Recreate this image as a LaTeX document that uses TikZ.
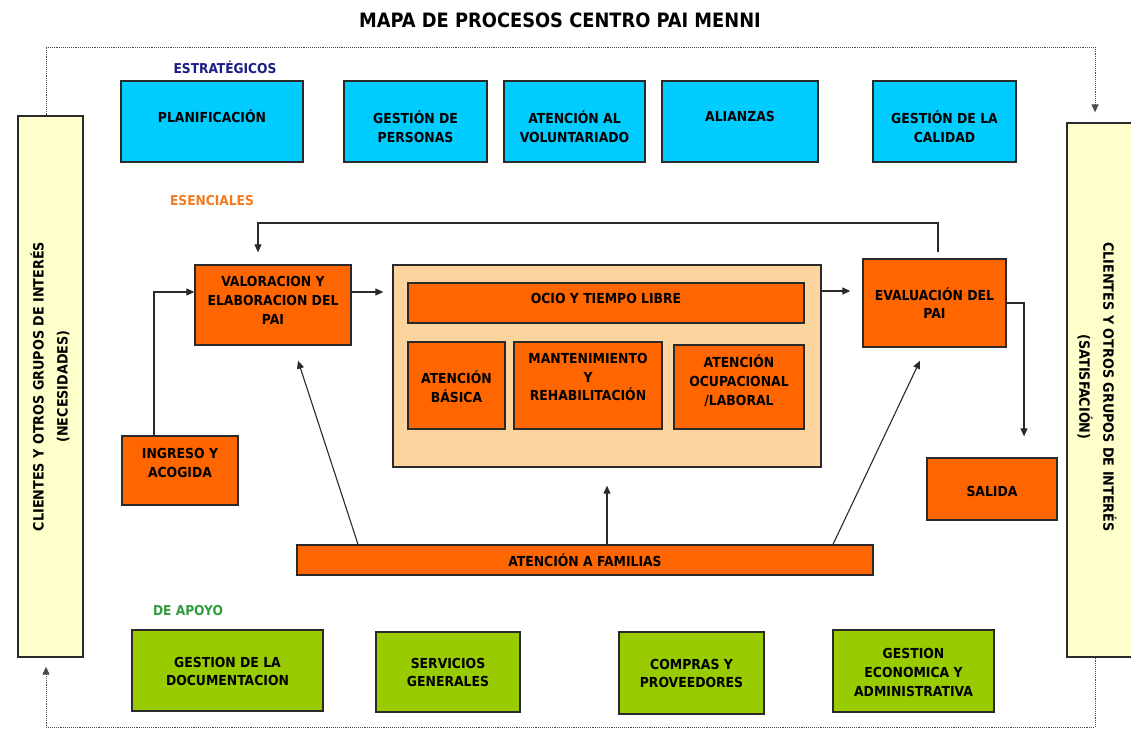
\documentclass[tikz,border=0pt]{standalone}
\usepackage{fontspec}
\setmainfont{DejaVu Sans Condensed}
\usetikzlibrary{arrows.meta,calc}
\definecolor{bluebox}{HTML}{00CCFF}
\definecolor{orangebox}{HTML}{FF6600}
\definecolor{greenbox}{HTML}{99CC00}
\definecolor{yellowbar}{HTML}{FFFFCC}
\definecolor{peach}{HTML}{FCD59E}
\definecolor{edge}{HTML}{2A2A2A}
\definecolor{navy}{HTML}{1C1C84}
\definecolor{esorange}{HTML}{F5791F}
\definecolor{apgreen}{HTML}{2F9C3A}
\tikzset{
  box/.style={draw=edge, line width=1.3pt, inner sep=0pt},
  btext/.style={align=center, inner sep=0pt, font=\bfseries\fontsize{13.8}{18.8}\selectfont},
  bluebx/.style={box, fill=bluebox},
  orangebx/.style={box, fill=orangebox},
  greenbx/.style={box, fill=greenbox},
  barbx/.style={draw=edge, line width=1.3pt, fill=yellowbar},
  bartext/.style={align=center, font=\bfseries\fontsize{14.2}{24}\selectfont},
  sectlabel/.style={font=\bfseries\fontsize{13.6}{15}\selectfont},
  arr/.style={draw=edge, line width=1.1pt, -{Triangle[length=8pt,width=7pt]}},
  dotline/.style={draw=black!70, line width=0.9pt, densely dotted, -{Triangle[length=8pt,width=7pt]}},
}
\begin{document}
\begin{tikzpicture}[x=1pt,y=-1pt]
\useasboundingbox (0,0) rectangle (1131,740);
% title
\node[font=\bfseries\fontsize{19.8}{22}\selectfont] (title) at (560,20) {MAPA DE PROCESOS CENTRO PAI MENNI};
% side bars
\node[barbx, minimum width=65pt, minimum height=541pt] (lbar) at (50.5,386.5) {};
\node[bartext, rotate=90] (ltext) at (50,386.5) {CLIENTES Y OTROS GRUPOS DE INTERÉS\\(NECESIDADES)};
\node[barbx, minimum width=66pt, minimum height=534pt] (rbar) at (1100,390) {};
\node[bartext, rotate=-90] (rtext) at (1097,387) {CLIENTES Y OTROS GRUPOS DE INTERÉS\\(SATISFACIÓN)};
% estrategicos
\node[sectlabel, text=navy] (estr) at (225,67) {ESTRATÉGICOS};
\node[bluebx, minimum width=182pt, minimum height=81pt] (plan) at (212,121.5) {};
\node[btext] (planT) at ([yshift=5.5pt]plan.center) {PLANIFICACIÓN};
\node[bluebx, minimum width=143pt, minimum height=81pt] (gper) at (415.5,121.5) {};
\node[btext] (gperT) at ([yshift=-5pt]gper.center) {GESTIÓN DE\\PERSONAS};
\node[bluebx, minimum width=141pt, minimum height=81pt] (avol) at (574.5,121.5) {};
\node[btext] (avolT) at ([yshift=-5pt]avol.center) {ATENCIÓN AL\\VOLUNTARIADO};
\node[bluebx, minimum width=156pt, minimum height=81pt] (alia) at (740,121.5) {};
\node[btext] (aliaT) at ([yshift=5.5pt]alia.center) {ALIANZAS};
\node[bluebx, minimum width=143pt, minimum height=81pt] (gcal) at (944.5,121.5) {};
\node[btext] (gcalT) at ([yshift=-5pt]gcal.center) {GESTIÓN DE LA\\CALIDAD};
% esenciales
\node[sectlabel, text=esorange] (esen) at (212,201) {ESENCIALES};
\node[orangebx, minimum width=156pt, minimum height=80pt] (valor) at (273,305) {};
\node[btext] (valorT) at ([yshift=4.5pt]valor.center) {VALORACION Y\\ELABORACION DEL\\PAI};
\node[box, fill=peach, minimum width=428pt, minimum height=202pt] (cont) at (607,366) {};
\node[orangebx, minimum width=396pt, minimum height=40pt] (ocio) at (606,303) {};
\node[btext] (ocioT) at ([yshift=5pt]ocio.center) {OCIO Y TIEMPO LIBRE};
\node[orangebx, minimum width=97pt, minimum height=87pt] (abas) at (456.5,385.5) {};
\node[btext] (abasT) at ([yshift=-1pt]abas.center) {ATENCIÓN\\BÁSICA};
\node[orangebx, minimum width=148pt, minimum height=87pt] (mant) at (588,385.5) {};
\node[btext] (mantT) at ([yshift=8.5pt]mant.center) {MANTENIMIENTO\\Y\\REHABILITACIÓN};
\node[orangebx, minimum width=130pt, minimum height=84pt] (aocu) at (739,387) {};
\node[btext] (aocuT) at ([yshift=6pt]aocu.center) {ATENCIÓN\\OCUPACIONAL\\/LABORAL};
\node[orangebx, minimum width=143pt, minimum height=88pt] (eval) at (934.5,303) {};
\node[btext] (evalT) at (eval.center) {EVALUACIÓN DEL\\PAI};
\node[orangebx, minimum width=130pt, minimum height=62pt] (sal) at (992,489) {};
\node[btext] (salT) at ([yshift=-2.5pt]sal.center) {SALIDA};
\node[orangebx, minimum width=116pt, minimum height=69pt] (ing) at (180,470.5) {};
\node[btext] (ingT) at ([yshift=7.5pt]ing.center) {INGRESO Y\\ACOGIDA};
\node[orangebx, minimum width=576pt, minimum height=30pt] (fam) at (585,560) {};
\node[btext] (famT) at (fam.center) {ATENCIÓN A FAMILIAS};
% de apoyo
\node[sectlabel, text=apgreen] (apoyo) at (188,611) {DE APOYO};
\node[greenbx, minimum width=191pt, minimum height=81pt] (gdoc) at (227.5,670.5) {};
\node[btext] (gdocT) at ([yshift=-1pt]gdoc.center) {GESTION DE LA\\DOCUMENTACION};
\node[greenbx, minimum width=144pt, minimum height=80pt] (sgen) at (448,672) {};
\node[btext] (sgenT) at ([yshift=-0.5pt]sgen.center) {SERVICIOS\\GENERALES};
\node[greenbx, minimum width=145pt, minimum height=82pt] (comp) at (691.5,673) {};
\node[btext] (compT) at ([yshift=-0.5pt]comp.center) {COMPRAS Y\\PROVEEDORES};
\node[greenbx, minimum width=161pt, minimum height=82pt] (geco) at (913.5,671) {};
\node[btext] (gecoT) at ([yshift=-1.5pt]geco.center) {GESTION\\ECONOMICA Y\\ADMINISTRATIVA};
% dotted loop
\coordinate (tl) at (46,47);
\coordinate (tr) at (1095,47);
\coordinate (bl) at (46,727);
\coordinate (br) at (1095,727);
\draw[dotline, shorten >=10pt] (lbar.north -| tl) -- (tl) -- (tr) -- (rbar.north -| tr);
\draw[dotline, shorten >=9pt] (rbar.south -| br) -- (br) -- (bl) -- (lbar.south -| bl);
% feedback evaluation -> valoracion
\coordinate (fb1) at (938,223);
\coordinate (fb2) at (258,223);
\draw[arr, shorten <=6pt, shorten >=12pt] (eval.north -| fb1) -- (fb1) -- (fb2) -- (valor.north -| fb2);
% valoracion -> container
\coordinate (a1) at ([yshift=13pt]valor.east);
\draw[arr, shorten >=9pt] (a1) -- (a1 -| cont.west);
% container -> evaluacion
\coordinate (a2) at ([yshift=12pt]eval.west);
\draw[arr, shorten >=12pt] (a2 -| cont.east) -- (a2);
% evaluacion -> salida
\draw[arr, shorten >=21pt] (eval.east) -| ([xshift=32pt]sal.north);
% ingreso -> valoracion
\coordinate (a3) at ([xshift=-26pt]ing.north);
\draw[arr] (a3) |- ([yshift=13pt]valor.west);
% familias -> ...
\draw[arr] ([xshift=-227pt]fam.north) -- ([xshift=25pt,yshift=-15pt]valor.south);
\draw[arr, shorten >=18pt] (fam.north -| cont.south) -- (cont.south);
\draw[arr] ([xshift=248pt]fam.north) -- ([xshift=-14.5pt,yshift=-13pt]eval.south);
\end{tikzpicture}
\end{document}
